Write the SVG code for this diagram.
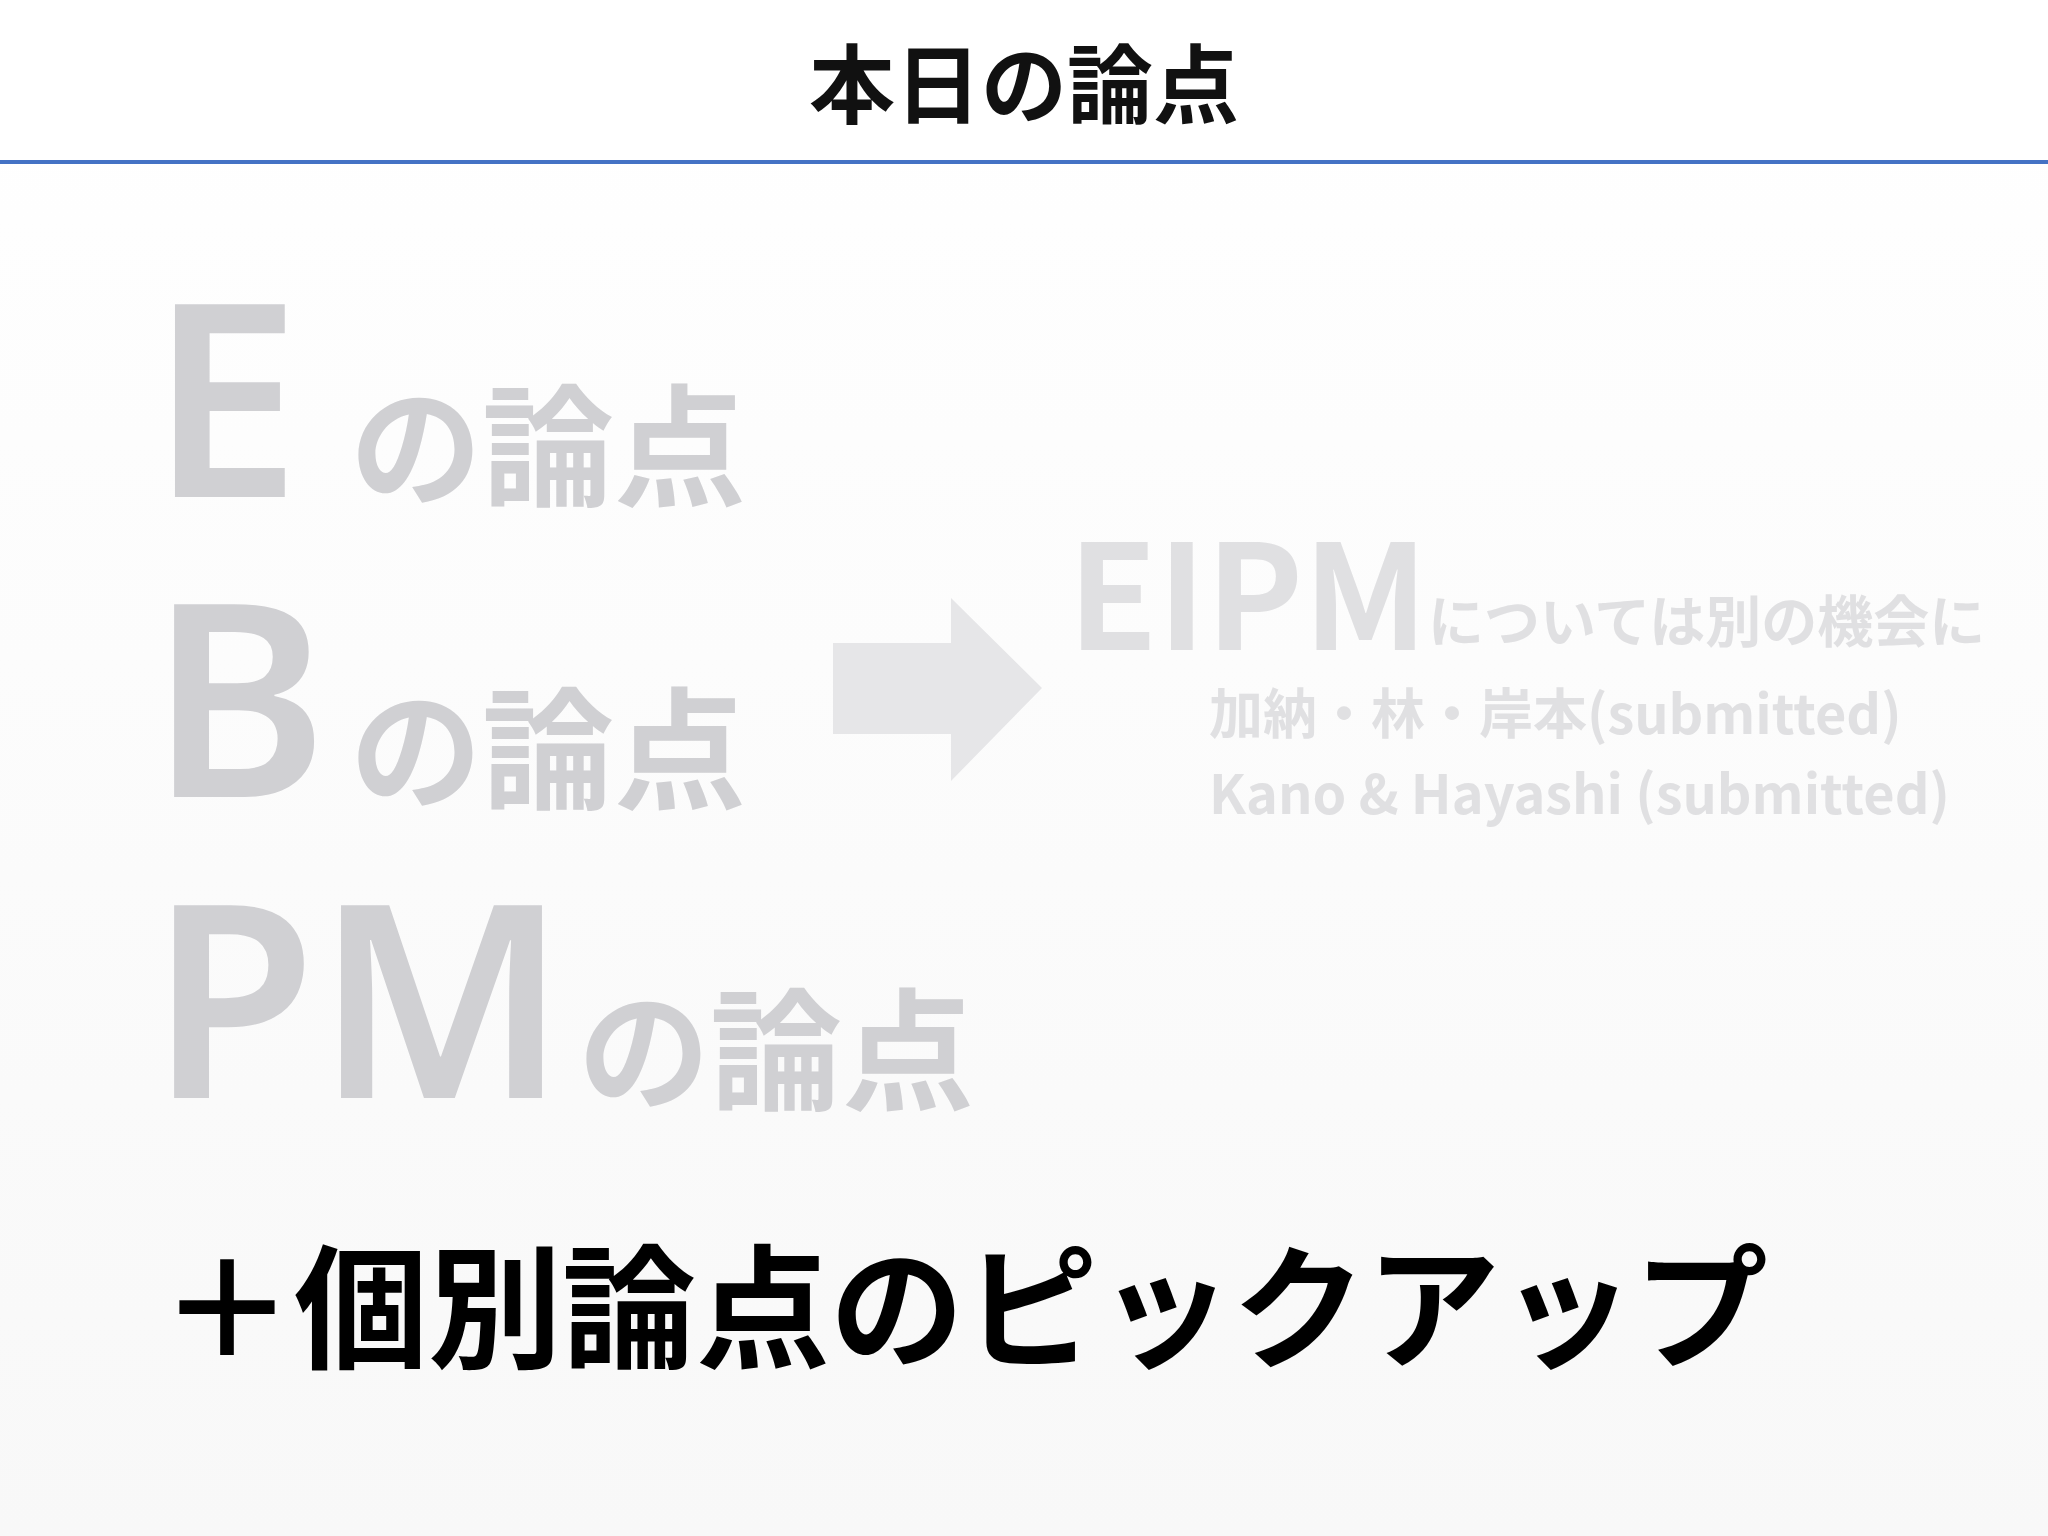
<svg xmlns="http://www.w3.org/2000/svg" width="2048" height="1536" viewBox="0 0 2048 1536">
<style>
text{font-family:"Noto Sans CJK JP","Noto Sans",sans-serif;font-weight:bold}
.big{fill:#d0d0d3;font-size:270px;font-family:"Noto Sans","Noto Sans CJK JP",sans-serif;font-weight:600}
.jp{fill:#d0d0d3;font-size:132px}
.sub{fill:#e0e0e2}
</style>
<defs><linearGradient id="bg" x1="0" y1="0" x2="0" y2="1"><stop offset="0" stop-color="#ffffff"/><stop offset="1" stop-color="#f8f8f8"/></linearGradient></defs>
<rect width="2048" height="1536" fill="url(#bg)"/>
<g id="title"><rect width="2048" height="162" fill="#fff"/><text x="1024" y="117" font-size="86" text-anchor="middle" fill="#111">本日の論点</text>
<rect x="0" y="160" width="2048" height="4" fill="#4472C4"/></g>
<g id="e"><text class="big" x="150" y="497">E</text><text class="jp" x="350" y="496">の論点</text></g>
<g id="b"><text class="big" x="150" y="797">B</text><text class="jp" x="350" y="799">の論点</text></g>
<g id="pm"><text class="big" x="150" y="1098">PM</text><text class="jp" x="578" y="1100">の論点</text></g>
<g id="connectors"><polygon points="833,643 951,643 951,598 1042,688 951,781 951,734 833,734" fill="#e6e6e8"/></g>
<g id="eipm">
<text class="sub" x="1068" y="650" font-size="146" font-family="Noto Sans,sans-serif">EIPM</text>
<text class="sub" x="1428" y="642" font-size="56">については別の機会に</text>
<text class="sub" x="1209" y="734" font-size="54">加納・林・岸本(submitted)</text>
<text class="sub" x="1209" y="814" font-size="54">Kano &amp; Hayashi (submitted)</text>
</g>
<g id="pickup"><text x="160" y="1358" font-size="134" fill="#000">＋個別論点のピックアップ</text></g>
</svg>
